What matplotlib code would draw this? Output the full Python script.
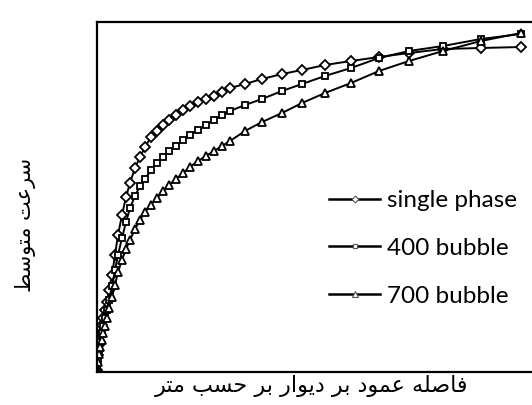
import matplotlib
matplotlib.use("Agg")
import matplotlib.pyplot as plt

# distance from wall (grid points shared by all three runs)
dist = [0.00, 0.01, 0.02, 0.03, 0.045, 0.06, 0.08, 0.10, 0.12, 0.15, 0.18, 0.21,
        0.25, 0.29, 0.33, 0.38, 0.43, 0.48, 0.54, 0.60, 0.66, 0.72, 0.79, 0.86,
        0.93, 1.01, 1.09, 1.17, 1.25, 1.33, 1.48, 1.65, 1.85, 2.05, 2.28, 2.54,
        2.82, 3.12, 3.46, 3.84, 4.24]

# mean velocity
single_phase = [0.02, 0.17, 0.27, 0.37, 0.47, 0.54, 0.62, 0.70, 0.82, 0.97, 1.17, 1.37,
                1.57, 1.75, 1.89, 2.04, 2.15, 2.25, 2.35, 2.41, 2.47, 2.52, 2.57, 2.62,
                2.66, 2.70, 2.73, 2.76, 2.80, 2.84, 2.88, 2.93, 2.98, 3.02, 3.07, 3.11,
                3.15, 3.19, 3.23, 3.24, 3.25]
bubble_400 = [0.01, 0.12, 0.22, 0.30, 0.39, 0.46, 0.54, 0.62, 0.72, 0.86, 1.02, 1.17,
              1.34, 1.50, 1.64, 1.76, 1.86, 1.93, 2.02, 2.09, 2.15, 2.21, 2.26, 2.32,
              2.37, 2.42, 2.47, 2.52, 2.57, 2.61, 2.67, 2.73, 2.81, 2.88, 2.96, 3.04,
              3.14, 3.21, 3.26, 3.33, 3.38]
bubble_700 = [0.01, 0.10, 0.18, 0.25, 0.32, 0.39, 0.46, 0.54, 0.64, 0.75, 0.87, 1.00,
              1.12, 1.23, 1.32, 1.43, 1.52, 1.60, 1.67, 1.74, 1.81, 1.87, 1.93, 1.99,
              2.05, 2.11, 2.16, 2.21, 2.26, 2.31, 2.41, 2.50, 2.59, 2.69, 2.79, 2.89,
              3.01, 3.11, 3.21, 3.31, 3.39]

labels = ["single phase", "400 bubble", "700 bubble"]
markers = ["D", "s", "^"]
msizes = [4.6, 4.8, 5.8]


def rtl(s):
    # glyphs already in presentation forms, just put them in visual order
    return s[::-1]


# سرعت متوسط
ylab = rtl("\uFEB3\uFEAE\uFECB\uFE96 \uFEE3\uFE98\uFEEE\uFEB3\uFEC2")
# فاصله عمود بر دیوار بر حسب متر
xlab = rtl("\uFED3\uFE8E\uFEBB\uFEE0\uFEEA \uFECB\uFEE4\uFEEE\uFEA9 \uFE91\uFEAE "
           "\uFEA9\uFEF3\uFEEE\uFE8D\uFEAD \uFE91\uFEAE \uFEA3\uFEB4\uFE90 \uFEE3\uFE98\uFEAE")

W, H = 532, 405
fig = plt.figure(figsize=(W / 100, H / 100), dpi=100)
# right edge of the frame is cut off in the original picture
ax = fig.add_axes([97 / W, 33 / H, 440 / W, 350 / H])

for y, lab, m, ms in zip([single_phase, bubble_400, bubble_700], labels, markers, msizes):
    ax.plot(dist, y, color="black", lw=1.4, marker=m, ms=ms, mfc="white",
            mec="black", mew=1.3, label=lab)

ax.set_xlim(0, 4.40)
ax.set_ylim(0, 3.50)
ax.set_xticks([])
ax.set_yticks([])
for sp in ax.spines.values():
    sp.set_linewidth(1.6)

fig.text(312 / W, 1 - 386 / H, xlab, family=["DejaVu Sans"], fontsize=16,
         ha="center", va="center")
fig.text(25 / W, 1 - 225 / H, ylab, family=["DejaVu Sans"], fontsize=15,
         rotation=90, ha="center", va="center")

leg = ax.legend(loc="upper left", bbox_to_anchor=(317 / W, 1 - 178 / H),
                bbox_transform=fig.transFigure, frameon=False, borderpad=0,
                handlelength=2.1, handletextpad=0.3, labelspacing=1.1,
                markerscale=0.75, prop={"family": ["Lato", "DejaVu Sans"], "size": 17.5})
for h in leg.legend_handles:
    h.set_markeredgecolor("#555555")
    h.set_markeredgewidth(0.8)
    h.set_linewidth(1.8)

fig.savefig("out.png", dpi=100)
